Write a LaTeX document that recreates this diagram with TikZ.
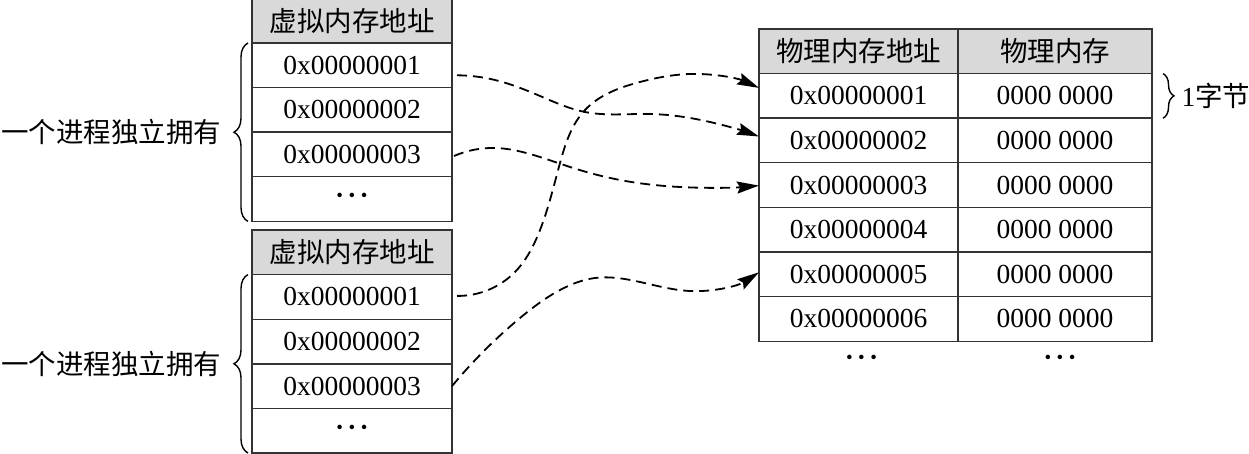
\documentclass[tikz,border=0pt]{standalone}
\usepackage{fontspec}
\setmainfont{Liberation Serif}
\newfontfamily\cjk{Noto Sans CJK SC}
\usetikzlibrary{arrows.meta,positioning,decorations.pathreplacing,hobby}

\begin{document}
\begin{tikzpicture}[x=1pt, y=-1pt, node distance=0pt,
  every node/.style={font=\fontsize{27.5}{32}\selectfont},
  cell/.style={draw=black!80, line width=1.4pt, minimum height=44.6pt, inner sep=0pt, outer sep=0pt},
  vcell/.style={cell, minimum width=200pt},
  head/.style={fill=gray!30},
  brc/.style={draw=black, line width=1.4pt, decorate, decoration={brace, amplitude=14pt}},
  link/.style={draw=black, line width=1.8pt, dash pattern=on 10pt off 6pt, use Hobby shortcut,
    -{Stealth[length=22pt, width=12pt, inset=3pt]}}]
\useasboundingbox (0,0) rectangle (1249,454);

% virtual address tables
\node[vcell, head] (va0) at (352,20.7) {\cjk 虚拟内存地址};
\foreach \t [count=\i, remember=\i as \j (initially 0)] in {0x00000001,0x00000002,0x00000003,\raisebox{-4pt}{\bfseries·\kern3pt·\kern3pt·}}
  \node[vcell, below=of va\j] (va\i) {\t};
\node[vcell, head] (vb0) at (352,252.3) {\cjk 虚拟内存地址};
\foreach \t [count=\i, remember=\i as \j (initially 0)] in {0x00000001,0x00000002,0x00000003,\raisebox{-4pt}{\bfseries·\kern3pt·\kern3pt·}}
  \node[vcell, below=of vb\j] (vb\i) {\t};

\draw[brc] ([shift={(-4,0)}]va4.south west) -- ([shift={(-4,0)}]va1.north west)
  node[midway, left=26pt, inner sep=0pt] (pra) {\cjk 一个进程独立拥有};
\draw[brc] ([shift={(-4,0)}]vb4.south west) -- ([shift={(-4,0)}]vb1.north west)
  node[midway, left=26pt, inner sep=0pt] (prb) {\cjk 一个进程独立拥有};

% physical memory table
\node[cell, head, minimum width=199pt] (pa0) at (858.5,51.3) {\cjk 物理内存地址};
\node[cell, head, minimum width=194pt, right=of pa0] (pb0) {\cjk 物理内存};
\foreach \i [remember=\i as \j (initially 0)] in {1,...,6} {
  \node[cell, minimum width=199pt, below=of pa\j] (pa\i) {0x0000000\i};
  \node[cell, minimum width=194pt, right=of pa\i] (pb\i) {0000 0000};
}
\node[font=\fontsize{27.5}{32}\bfseries] (pad) at ([shift={(3,20)}]pa6.south) {·\kern3pt·\kern3pt·};
\node[font=\fontsize{27.5}{32}\bfseries] (pbd) at ([shift={(5,20)}]pb6.south) {·\kern3pt·\kern3pt·};
\draw[brc, decoration={brace, amplitude=11pt}] ([shift={(11,0)}]pb1.north east) -- ([shift={(11,0)}]pb1.south east)
  node[midway, right=18pt, inner sep=0pt] (byte) {1{\cjk 字节}};

% mappings
\draw[link] ([shift={(5,10)}]va1.east) .. (495,80) .. (540,96) .. (585,112) .. (650,114) .. (710,122) .. ([shift={(0,-4)}]pa2.west);
\draw[link] ([shift={(2,1.5)}]va3.east) .. (495,148) .. (530,154) .. (570,167) .. (620,180) .. (680,187) .. ([shift={(0,0.5)}]pa3.west);
\draw[link] ([shift={(5,-1)}]vb1.east) .. (515,272) .. (538,235) .. (560,163) .. (585,110) .. (640,82) .. (690,74) .. ([shift={(0,-8)}]pa1.west);
\draw[link] (vb3.east) .. (520,318) .. (560,290) .. (595,278) .. (640,282) .. (690,291) .. ([shift={(0,-2)}]pa5.west);
\end{tikzpicture}
\end{document}
